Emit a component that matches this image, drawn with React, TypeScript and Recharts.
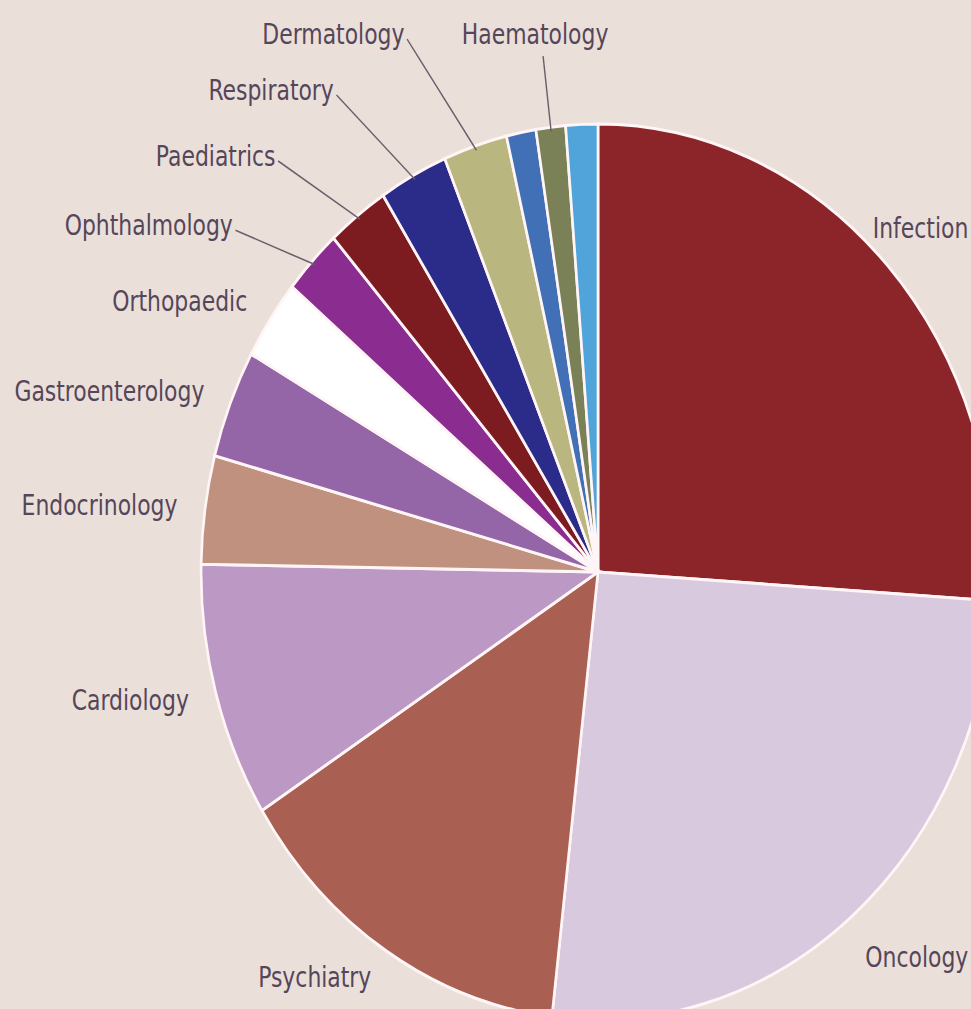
import { Cell, Pie, PieChart } from "recharts";

// specialties, clockwise from 12 o'clock
const specialties = [
  "Infection",
  "Oncology",
  "Psychiatry",
  "Cardiology",
  "Endocrinology",
  "Gastroenterology",
  "Orthopaedic",
  "Ophthalmology",
  "Paediatrics",
  "Respiratory",
  "Dermatology",
  "",
  "Haematology",
  "",
];

// share of the whole, in percent
const shares = [26, 25.8, 14.2, 9.2, 3.9, 3.9, 2.9, 2.4, 2.5, 2.8, 2.6, 1.2, 1.2, 1.3];

const colors = [
  "#8B2529",
  "#D9C9DE",
  "#A95F51",
  "#BB99C4",
  "#C1917F",
  "#9566A7",
  "#FFFFFF",
  "#8B2D90",
  "#7C1C20",
  "#2B2B8A",
  "#B9B67F",
  "#4270B6",
  "#7B8156",
  "#51A4D9",
];

// labels that sit further out with a pointer line, in clockwise order
const leaderLabels = ["Ophthalmology", "Paediatrics", "Respiratory", "Dermatology", "Haematology"];

const data = specialties.map((name, i) => ({ name, value: shares[i] }));

// the source picture is squeezed horizontally
const SQUEEZE = 0.886;
const W = 971;
const H = 1009;
const CHART_W = W / SQUEEZE;
const RAD = Math.PI / 180;
const TEXT = "#55465A";
const FONT = '"Liberation Sans Narrow", "DejaVu Sans Condensed", "Liberation Sans", sans-serif';
const FS = 27.5;

function renderLabel(props: any) {
  const { cx, cy, midAngle, outerRadius, name } = props;
  if (!name) return null;
  const at = (r: number, a: number) => ({
    x: cx + r * Math.cos(-a * RAD),
    y: cy + r * Math.sin(-a * RAD),
  });

  const k = leaderLabels.indexOf(name);
  if (k >= 0) {
    const top = Math.abs(Math.cos(midAngle * RAD)) < 0.2;
    const p0 = at(outerRadius * 0.99, midAngle);
    const p1 = top ? at(outerRadius * 1.16, midAngle) : at(outerRadius * (1.19 + 0.031 * k), midAngle + 4);
    return (
      <g>
        <line x1={p0.x} y1={p0.y} x2={p1.x} y2={p1.y} stroke="#6E5E6B" strokeWidth={1.6} />
        {top ? (
          <text x={p1.x - 9} y={p1.y - 22} textAnchor="middle" dominantBaseline="central" fill={TEXT} fontSize={FS} fontFamily={FONT}>
            {name}
          </text>
        ) : (
          <text x={p1.x - 3} y={p1.y - 5} textAnchor="end" dominantBaseline="central" fill={TEXT} fontSize={FS} fontFamily={FONT}>
            {name}
          </text>
        )}
      </g>
    );
  }

  if (Math.cos(midAngle * RAD) > 0.3) {
    // right-hand labels run up against the edge of the picture
    const p = at(outerRadius * 1.12, midAngle);
    return (
      <text x={CHART_W - 3} y={p.y} textAnchor="end" dominantBaseline="central" fill={TEXT} fontSize={FS} fontFamily={FONT}>
        {name}
      </text>
    );
  }

  const p = at(outerRadius * 1.07, midAngle);
  const anchor = p.x < cx ? "end" : "start";
  return (
    <text x={p.x} y={p.y} textAnchor={anchor} dominantBaseline="central" fill={TEXT} fontSize={FS} fontFamily={FONT}>
      {name}
    </text>
  );
}

export default function App() {
  return (
    <div
      style={{
        position: "absolute",
        left: 0,
        top: 0,
        width: W,
        height: H,
        overflow: "hidden",
        background: "#EBDFD9",
      }}
    >
      <div style={{ width: CHART_W, height: H, transform: `scaleX(${SQUEEZE})`, transformOrigin: "0 0" }}>
        <PieChart width={CHART_W} height={H} margin={{ top: 0, right: 0, bottom: 0, left: 0 }}>
          <Pie
            data={data}
            dataKey="value"
            nameKey="name"
            cx={598 / SQUEEZE}
            cy={572}
            outerRadius={448}
            startAngle={90}
            endAngle={-270}
            stroke="#FFF5F6"
            strokeWidth={3}
            label={renderLabel}
            labelLine={false}
            isAnimationActive={false}
          >
            {data.map((d, i) => (
              <Cell key={i} fill={colors[i]} />
            ))}
          </Pie>
        </PieChart>
      </div>
    </div>
  );
}
